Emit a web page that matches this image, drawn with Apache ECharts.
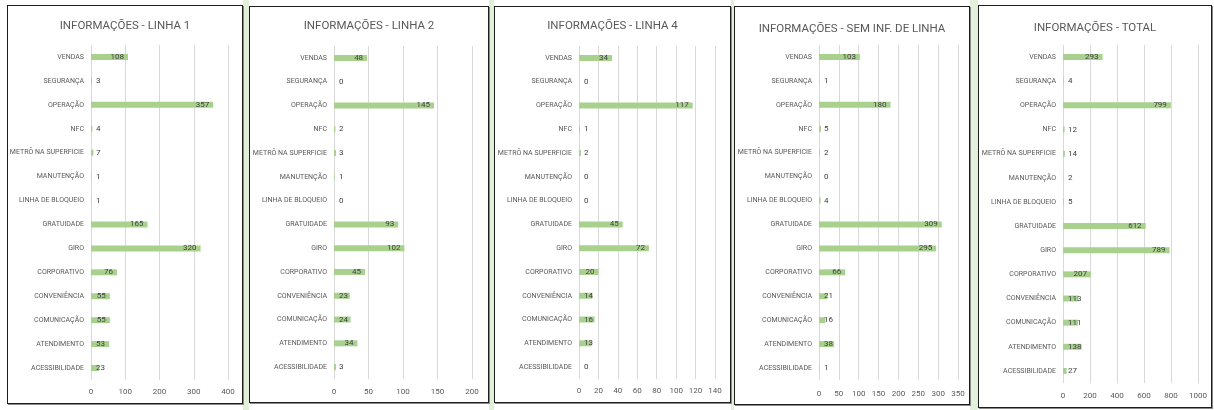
<!DOCTYPE html>
<html>
<head>
<meta charset="utf-8">
<script src="https://cdn.jsdelivr.net/npm/echarts@6/dist/echarts.min.js"></script>
<style>
  body {
    margin: 0;
    width: 1214px;
    height: 410px;
    background: #fff;
    position: relative;
    overflow: hidden;
  }
  .strip {
    position: absolute;
    top: 0;
    height: 410px;
    background: #e2efda;
  }
  .panel {
    position: absolute;
    box-sizing: border-box;
    background: #fff;
    border: 1px solid #1e1e1e;
    box-shadow: 1px 1px 0 #8a8a8a;
  }
  .panel > div {
    position: absolute;
    left: 0;
    top: 0;
    right: 0;
    bottom: 0;
  }
</style>
</head>
<body>
<script>
const categories = [
  'VENDAS', 'SEGURANÇA', 'OPERAÇÃO', 'NFC', 'METRÔ NA SUPERFICIE', 'MANUTENÇÃO',
  'LINHA DE BLOQUEIO', 'GRATUIDADE', 'GIRO', 'CORPORATIVO', 'CONVENIÊNCIA',
  'COMUNICAÇÃO', 'ATENDIMENTO', 'ACESSIBILIDADE'
]

const linha1 = [108, 3, 357, 4, 7, 1, 1, 165, 320, 76, 55, 55, 53, 23]
const linha2 = [48, 0, 145, 2, 3, 1, 0, 93, 102, 45, 23, 24, 34, 3]
const linha4 = [34, 0, 117, 1, 2, 0, 0, 45, 72, 20, 14, 16, 13, 0]
const semLinha = [103, 1, 180, 5, 2, 0, 4, 309, 295, 66, 21, 16, 38, 1]
const total = [293, 4, 799, 12, 14, 2, 5, 612, 789, 207, 113, 111, 138, 27]

const titles = [
  'INFORMAÇÕES - LINHA 1',
  'INFORMAÇÕES - LINHA 2',
  'INFORMAÇÕES - LINHA 4',
  'INFORMAÇÕES - SEM INF. DE LINHA',
  'INFORMAÇÕES - TOTAL'
]
const axisMax = [400, 200, 140, 350, 1000]
const axisStep = [100, 50, 20, 50, 200]
const seriesList = [linha1, linha2, linha4, semLinha, total]

// page coordinates: chart box [x0, y0, x1, y1] and plot area [x0, y0, x1, y1]
const layout = [
  { box: [7, 5, 243, 404], plot: [91, 45, 228, 380], titleY: 25, tickY: 392 },
  { box: [249, 6, 489, 403], plot: [334, 46, 472, 379], titleY: 25, tickY: 392 },
  { box: [494, 6, 731, 403], plot: [579, 46, 715, 379], titleY: 25, tickY: 391 },
  { box: [734, 6, 970, 405], plot: [819, 45, 958, 380], titleY: 28, tickY: 394 },
  { box: [978, 5, 1212, 408], plot: [1063, 45, 1198, 383], titleY: 27, tickY: 396 }
]
const gaps = [[243, 249], [489, 494], [731, 734], [970, 978]]

const FONT = 'Roboto, "Liberation Sans", sans-serif'

gaps.forEach(function (g) {
  const s = document.createElement('div')
  s.className = 'strip'
  s.style.left = g[0] + 'px'
  s.style.width = (g[1] - g[0]) + 'px'
  document.body.appendChild(s)
})

function buildData(values, max, plotWidth) {
  return values.map(function (v) {
    const barPx = v / max * plotWidth
    const labelPx = String(v).length * 4.4
    const inside = barPx >= labelPx + 10
    return {
      value: v,
      label: {
        position: inside ? 'insideRight' : 'insideLeft',
        distance: inside ? 4 : 5
      }
    }
  })
}

layout.forEach(function (l, i) {
  const panel = document.createElement('div')
  panel.className = 'panel'
  panel.style.left = l.box[0] + 'px'
  panel.style.top = l.box[1] + 'px'
  panel.style.width = (l.box[2] - l.box[0]) + 'px'
  panel.style.height = (l.box[3] - l.box[1]) + 'px'
  const inner = document.createElement('div')
  panel.appendChild(inner)
  document.body.appendChild(panel)

  const ox = l.box[0] + 1
  const oy = l.box[1] + 1
  const plotWidth = l.plot[2] - l.plot[0]

  const chart = echarts.init(inner)
  chart.setOption({
    animation: false,
    textStyle: { fontFamily: FONT },
    title: {
      text: titles[i],
      left: 'center',
      top: l.titleY - oy - 5,
      padding: 0,
      textStyle: {
        fontFamily: FONT,
        fontSize: 11.5,
        fontWeight: 'normal',
        color: '#595959'
      }
    },
    grid: {
      left: l.plot[0] - ox,
      top: l.plot[1] - oy,
      width: plotWidth,
      height: l.plot[3] - l.plot[1],
      outerBoundsMode: 'none',
      containLabel: false
    },
    xAxis: {
      type: 'value',
      min: 0,
      max: axisMax[i],
      interval: axisStep[i],
      axisLine: { show: false },
      axisTick: { show: false },
      axisLabel: {
        color: '#595959',
        fontSize: 8,
        margin: l.tickY - l.plot[3] - 4,
        fontFamily: FONT,
        formatter: function (v) { return String(v) }
      },
      splitLine: { lineStyle: { color: '#d9d9d9', width: 1 } }
    },
    yAxis: {
      type: 'category',
      inverse: true,
      data: categories,
      axisLine: { show: false },
      axisTick: { show: false },
      axisLabel: { color: '#595959', fontSize: 7, margin: 7, fontFamily: FONT }
    },
    series: [
      {
        type: 'bar',
        barWidth: 6,
        itemStyle: { color: '#a9d18e' },
        label: {
          show: true,
          color: '#404040',
          fontSize: 8,
          fontFamily: FONT
        },
        data: buildData(seriesList[i], axisMax[i], plotWidth)
      }
    ]
  })
})
</script>
</body>
</html>
